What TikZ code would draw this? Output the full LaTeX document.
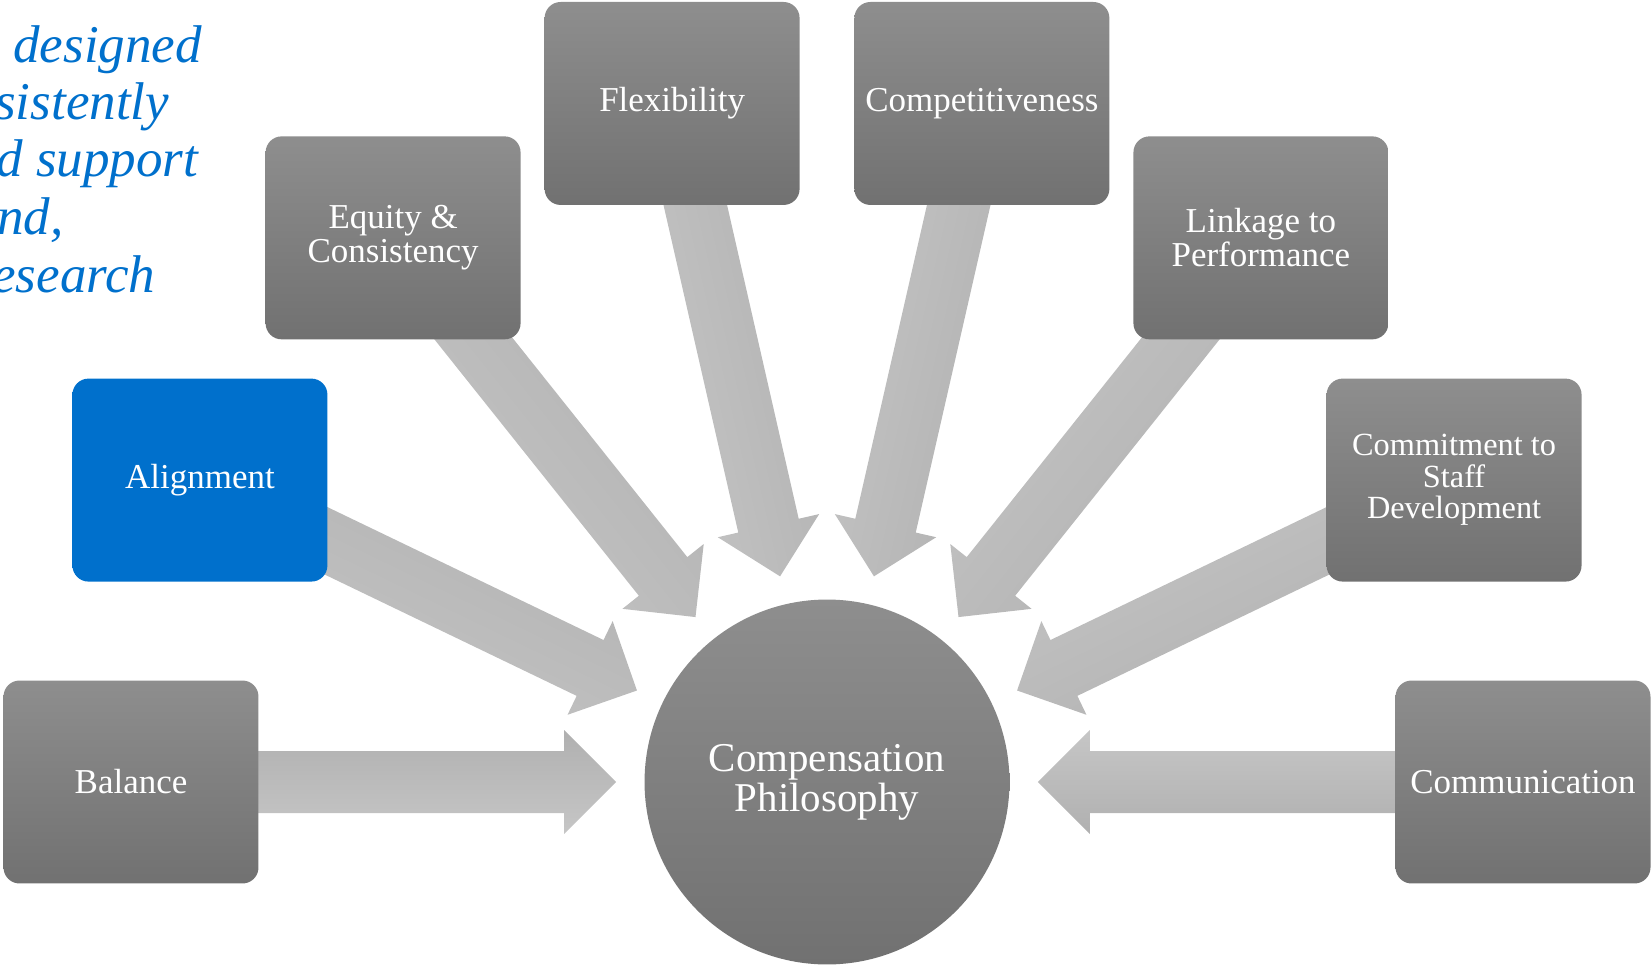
\documentclass[tikz,border=0pt]{standalone}
\usepackage{fontspec}
\setmainfont{Liberation Serif}
\usepackage{tikz}
\usetikzlibrary{calc, backgrounds}

\definecolor{boxtop}{RGB}{142,142,142}
\definecolor{boxbottom}{RGB}{113,113,113}
\definecolor{arrowdark}{RGB}{176,176,176}
\definecolor{arrowlight}{RGB}{198,198,198}
\definecolor{slideblue}{RGB}{0,112,204}

\begin{document}
\begin{tikzpicture}[x = 0.02cm, y = 0.02cm,
	petal/.style = {rectangle, rounded corners = 0.32cm, minimum width = 5.1cm, minimum height = 4.06cm,
		inner sep = 0, top color = boxtop, bottom color = boxbottom, text = white, align = center,
		font = \fontsize{19.9}{19.3}\selectfont},
	picked/.style = {petal, top color = slideblue, bottom color = slideblue},
	hubdisc/.style = {circle, minimum size = 7.3cm, inner sep = 0, top color = boxtop, bottom color = boxbottom,
		text = white, align = center, font = \fontsize{23.3}{22.8}\selectfont},
	arrowbody/.style = {top color = arrowdark, bottom color = arrowlight},
	blurb/.style = {anchor = base west, inner sep = 0, text = slideblue, font = \fontsize{30.2}{32.7}\selectfont\itshape}]
	
		\useasboundingbox (0, 0) rectangle (1652, 968);
		
		\node[hubdisc] (hub) at (827, 186) {Compensation\\Philosophy};
		
		\node[petal] (balance) at ($(hub) + (180:696)$) {Balance};
		\node[picked] (alignment) at ($(hub) + (154.29:696)$) {Alignment};
		\node[petal] (equity) at ($(hub) + (128.57:696)$) {Equity \&\\Consistency};
		\node[petal] (flexibility) at ($(hub) + (102.86:696)$) {Flexibility};
		\node[petal] (competitiveness) at ($(hub) + (77.14:696)$) {Competitiveness};
		\node[petal] (linkage) at ($(hub) + (51.43:696)$) {Linkage to\\Performance};
		\node[petal, font = \fontsize{18.4}{18}\selectfont] (commitment) at ($(hub) + (25.71:696)$) {Commitment to\\Staff\\Development};
		\node[petal] (communication) at ($(hub) + (0:696)$) {Communication};
		
		\begin{scope}[on background layer]
			\foreach \petal/\tilt in {balance/0, alignment/-25.71, equity/-51.43, flexibility/-77.14,
				competitiveness/-102.86, linkage/-128.57, commitment/-154.29, communication/-180}
				\shade[arrowbody, shading angle = \tilt] ($(hub)!4.22cm!(\petal)$)
					-- ($(hub)!5.26cm!(\petal)!1.04cm!90:(\petal)$)
					-- ($(hub)!5.26cm!(\petal)!0.62cm!90:(\petal)$)
					-- ($(\petal)!0.62cm!-90:(hub)$)
					-- ($(\petal)!0.62cm!90:(hub)$)
					-- ($(hub)!5.26cm!(\petal)!0.62cm!-90:(\petal)$)
					-- ($(hub)!5.26cm!(\petal)!1.04cm!-90:(\petal)$)
					-- cycle;
		\end{scope}
		
		\node[blurb] (blurbA) at (13, 905) {designed};
		\node[blurb] (blurbB) at (-5, 848) {sistently};
		\node[blurb] (blurbC) at (-4, 791) {d support};
		\node[blurb] (blurbD) at (-3, 733) {nd,};
		\node[blurb] (blurbE) at (-8, 675) {esearch};
	
	\end{tikzpicture}
\end{document}
